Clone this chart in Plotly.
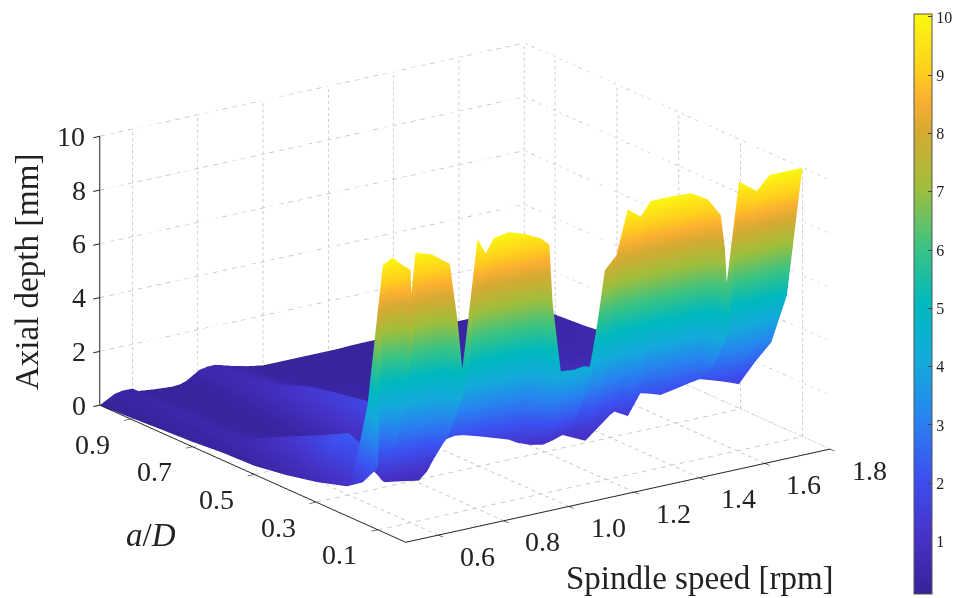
import plotly.graph_objects as go

speed = [.50,.515,.545,.57,.60,.606,.615,.665,.72,.745,.765,.785,.805,.83,.855,.90,.95,1.0,1.025,1.035,1.06,1.10,1.13,1.16,1.195,1.23,1.265,1.305,1.335,1.36,1.40,1.46,1.51,1.55,1.563,1.576,1.59,1.606,1.66,1.70,1.75,1.80]
ratio = [.1,.15,.2,.3,.4,.5,.6,.7,.8,.9,1.0]

depth_01 = [2.3,9.8,10,9.7,9.4,6.5,10,9.8,9.3,7,4.4,6,10,9.4,9.9,10,9.8,9.5,9.2,7,4.4,4.35,4.4,4.3,7.8,8.25,9.87,9.5,10,10,10,9.95,9.6,8.9,7.6,4.5,7.2,10,9.5,10,10,10]
depth_015 = [1.5,4.3,4.5,4.4,4.1,2.9,4.1,4.0,3.7,3.1,2.6,3.3,4.8,4.7,4.8,4.7,4.6,4.4,4.1,3.3,2.3,2.2,2.3,2.3,3.4,3.4,4.2,4.4,4.7,4.4,4.9,4.8,4.8,4.5,4.1,3.0,4.0,5.0,4.6,4.6,5.0,5.0]
depth_02 = [1.1,1.3,1.55,1.57,1.8,1.05,.95,.85,.73,1.0,1.4,1.8,2.05,2.1,2.06,1.9,1.7,1.5,1.31,1.27,1.15,1.05,1.13,1.25,1.05,.85,1.2,1.6,1.8,1.42,2.2,1.94,2.05,2.15,2.17,2.2,2.22,2.24,1.9,1.7,2.4,3.0]
depth_03 = [.75,.95,1.8,2.2,2.3,2.0,1.6,1.2,1.0,1.1,1.3,1.7,2.0,2.2,2.2,2.0,1.7,1.4,1.2,1.15,1.0,.9,1.0,1.1,1.0,.9,1.0,1.2,1.4,1.3,1.6,1.6,1.7,1.7,1.7,1.7,1.7,1.7,1.5,1.4,1.7,2.0]
depth_04 = [.5,.7,1.1,1.5,1.7,1.6,1.3,.8,.6,.75,1.0,1.3,1.6,1.8,1.9,1.7,1.3,1.0,.85,.8,.75,.7,.75,.8,.75,.7,.8,.95,1.1,1.05,1.2,1.25,1.3,1.3,1.3,1.3,1.3,1.3,1.2,1.15,1.3,1.5]
depth_05 = [.32,.45,.8,1.05,1.15,1.05,.8,.55,.45,.6,.85,1.2,1.5,1.7,1.75,1.4,1.0,.75,.6,.6,.55,.5,.55,.6,.55,.55,.6,.7,.8,.75,.85,.9,.95,.95,.95,.95,.95,.95,.9,.85,.95,1.1]
depth_06 = [.28,.35,.5,.55,.55,.5,.42,.34,.3,.45,.7,1.05,1.3,1.5,1.55,1.2,.8,.55,.45,.45,.42,.4,.4,.42,.42,.4,.45,.5,.55,.55,.6,.65,.7,.7,.7,.7,.7,.7,.65,.65,.75,.85]
depth_07 = [.18,.25,.4,.45,.45,.4,.3,.22,.2,.3,.5,.8,1.05,1.25,1.3,1.0,.6,.4,.35,.35,.32,.3,.3,.32,.32,.3,.35,.38,.4,.4,.45,.5,.5,.5,.5,.5,.5,.5,.5,.5,.55,.65]
depth_08 = [.12,.2,.38,.45,.45,.38,.28,.22,.2,.25,.35,.55,.75,.85,.85,.65,.4,.3,.28,.28,.26,.25,.25,.26,.26,.25,.28,.3,.3,.3,.32,.35,.36,.36,.36,.36,.36,.36,.38,.4,.45,.5]
depth_09 = [.05,.15,.35,.42,.4,.32,.25,.18,.15,.18,.25,.4,.55,.65,.65,.5,.3,.22,.2,.2,.2,.2,.2,.2,.2,.2,.22,.22,.24,.24,.25,.27,.28,.28,.28,.28,.28,.28,.3,.32,.36,.42]
depth_10 = [0,.1,.3,.36,.35,.3,.22,.15,.1,.12,.2,.35,.5,.56,.56,.4,.25,.15,.15,.15,.15,.15,.15,.15,.15,.15,.17,.18,.18,.18,.2,.2,.2,.2,.2,.2,.2,.2,.2,.22,.24,.25]
depth = [depth_01,depth_015,depth_02,depth_03,depth_04,depth_05,depth_06,depth_07,depth_08,depth_09,depth_10]

speed_ticks = [.6,.8,1.0,1.2,1.4,1.6,1.8]
ratio_ticks = [.1,.3,.5,.7,.9]
depth_ticks = [0,2,4,6,8,10]
bar_ticks = [1,2,3,4,5,6,7,8,9,10]
X0, X1 = .5, 1.8
Y0, Y1 = .01, 1
Z0, Z1 = 0, 10

colors = [[0,'#37239a'],[.1,'#4632c8'],[.2,'#3c50f0'],[.3,'#2882f0'],[.4,'#14aadc'],[.5,'#00b9be'],
          [.6,'#3cc382'],[.7,'#a0be3c'],[.8,'#d7aa32'],[.85,'#faaf32'],[.9,'#ffcd1e'],[1,'#fafa0f']]

gx, gy, gz = [], [], []
def seg(a, b, n=90):
    for i in range(0, n, 2):
        p = [a[k] + (b[k]-a[k])*i/n for k in range(3)]
        q = [a[k] + (b[k]-a[k])*(i+1)/n for k in range(3)]
        gx.extend([p[0], q[0], None]); gy.extend([p[1], q[1], None]); gz.extend([p[2], q[2], None])
for t in speed_ticks:
    seg((t,Y0,Z0),(t,Y1,Z0)); seg((t,Y1,Z0),(t,Y1,Z1))
for t in ratio_ticks:
    seg((X0,t,Z0),(X1,t,Z0)); seg((X1,t,Z0),(X1,t,Z1))
for t in depth_ticks:
    seg((X0,Y1,t),(X1,Y1,t)); seg((X1,Y1,t),(X1,Y0,t))

fig = go.Figure()
fig.add_trace(go.Scatter3d(x=gx,y=gy,z=gz,mode='lines',line=dict(color='#bcbcbc',width=1.5),hoverinfo='skip',showlegend=False))
fig.add_trace(go.Surface(x=speed,y=ratio,z=depth,colorscale=colors,cmin=.1,cmax=10.05,
    lighting=dict(ambient=1,diffuse=0,specular=0,fresnel=0,roughness=1),
    colorbar=dict(thickness=18,lenmode='pixels',len=580,y=.505,yanchor='middle',x=906/966,xanchor='left',xpad=0,ypad=0,
        tickvals=bar_ticks,ticks='inside',ticklen=4,tickcolor='#444',tickwidth=1,outlinewidth=1,outlinecolor='#555',
        tickfont=dict(family='Liberation Serif',size=16,color='#222'))))

ax = dict(showgrid=False,zeroline=False,showbackground=False,showline=True,linecolor='#222',linewidth=2,
          ticks='outside',ticklen=8,tickcolor='#222',tickwidth=2,title='',showspikes=False,showticklabels=False)

tick_font = dict(family='Liberation Serif',size=28,color='#222')
scene_notes = []
for t in speed_ticks:
    scene_notes.append(dict(x=t,y=Y0,z=Z0,text='%.1f'%t,showarrow=False,xshift=39,yshift=-21,font=tick_font))
for t in ratio_ticks:
    scene_notes.append(dict(x=X0,y=t,z=Z0,text='%.1f'%t,showarrow=False,xshift=-38,yshift=-25,font=tick_font))
for t in depth_ticks:
    scene_notes.append(dict(x=X0,y=Y1,z=t,text=str(t),showarrow=False,xshift=-29 if t==10 else -21,yshift=0,font=tick_font))

S = 1.79
CZ = -.03
title_font = dict(family='Liberation Serif',size=33,color='#222')
fig.update_layout(width=966,height=598,margin=dict(l=0,r=0,t=0,b=0,autoexpand=False),paper_bgcolor='white',font=dict(family='Liberation Serif'),
    scene=dict(domain=dict(x=[0,.9462],y=[.02,1]),annotations=scene_notes,
        xaxis=dict(ax,range=[X0,X1],tickvals=speed_ticks),
        yaxis=dict(ax,range=[Y0,Y1],tickvals=ratio_ticks),
        zaxis=dict(ax,range=[Z0,Z1],tickvals=depth_ticks),
        aspectmode='manual',aspectratio=dict(x=S*.988,y=1.017*S,z=.54*S),
        camera=dict(projection=dict(type='orthographic'),up=dict(x=0,y=0,z=1),center=dict(x=0,y=0,z=CZ),
                    eye=dict(x=-.5446*2,y=-.7777*2,z=.3137*2+CZ))),
    annotations=[
        dict(text='Axial depth [mm]',x=19/966,y=1-264/598,xref='paper',yref='paper',xanchor='center',yanchor='middle',textangle=-90,showarrow=False,font=title_font),
        dict(text='Spindle speed [rpm]',x=692/966,y=1-570/598,xref='paper',yref='paper',xanchor='center',yanchor='middle',showarrow=False,font=title_font),
        dict(text='<i>a</i>/<i>D</i>',x=143/966,y=1-527/598,xref='paper',yref='paper',xanchor='center',yanchor='middle',showarrow=False,font=title_font),
    ])
fig.write_html('out.html')
